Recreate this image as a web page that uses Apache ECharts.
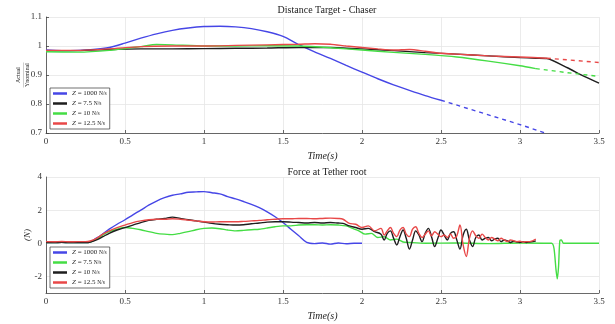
<!DOCTYPE html>
<html><head><meta charset="utf-8">
<script src="https://cdn.jsdelivr.net/npm/echarts@6/dist/echarts.min.js"></script>
<style>html,body{margin:0;padding:0;background:#fff}#c{width:615px;height:324px}</style>
</head><body><div id="c"></div>
<script>
// ---------- Top chart: Distance Target - Chaser ----------
const xTicks = [0, 0.5, 1, 1.5, 2, 2.5, 3, 3.5];
const topLabels = ['1000', '7.5', '10', '12.5'];
const botLabels = ['1000', '7.5', '10', '12.5'];

const tBlueTop = [0,0.1,0.2,0.3,0.4,0.5,0.6,0.7,0.8,0.9,1.0,1.1,1.2,1.3,1.4,1.5,1.6,1.7,1.8,1.9,2.0,2.1,2.2,2.3,2.4,2.5];
const yBlueTop = [0.986,0.984,0.985,0.988,0.995,1.010,1.027,1.042,1.054,1.062,1.067,1.068,1.066,1.060,1.049,1.033,1.005,0.980,0.957,0.933,0.910,0.887,0.866,0.847,0.829,0.813];
const tBlueTopDash = [2.5,2.75,3.0,3.16];
const yBlueTopDash = [0.813,0.771,0.729,0.700];

const tBlackTop = [0,0.2,0.4,0.6,0.8,1.0,1.2,1.4,1.6,1.8,2.0,2.2,2.4,2.6,2.8,3.0,3.1,3.17,3.3,3.4,3.5];
const yBlackTop = [0.984,0.984,0.988,0.990,0.990,0.991,0.992,0.993,0.995,0.995,0.990,0.984,0.977,0.972,0.966,0.960,0.958,0.957,0.925,0.897,0.872];

const tGreenTop = [0,0.2,0.4,0.6,0.7,0.8,1.0,1.2,1.4,1.6,1.8,2.0,2.2,2.4,2.6,2.8,3.0,3.1];
const yGreenTop = [0.980,0.979,0.985,0.998,1.005,1.004,1.000,1.000,1.001,1.000,0.994,0.986,0.978,0.971,0.962,0.948,0.932,0.922];
const tGreenTopDash = [3.1,3.3,3.5];
const yGreenTopDash = [0.922,0.908,0.895];

const tRedTop = [0,0.2,0.4,0.6,0.8,1.0,1.2,1.4,1.6,1.7,1.8,1.9,2.0,2.1,2.2,2.3,2.4,2.5,2.6,2.8,3.0,3.17];
const yRedTop = [0.985,0.985,0.990,0.998,1.000,1.000,1.002,1.004,1.006,1.008,1.006,1.000,0.995,0.990,0.986,0.988,0.982,0.975,0.972,0.966,0.962,0.958];
const tRedTopDash = [3.17,3.35,3.5];
const yRedTopDash = [0.958,0.950,0.943];

// ---------- Bottom chart: Force at Tether root ----------
const tBlueF = [0,0.05,0.1,0.15,0.2,0.25,0.28,0.3,0.35,0.4,0.45,0.5,0.55,0.6,0.65,0.7,0.75,0.8,0.85,0.9,0.95,1.0,1.05,1.1,1.15,1.2,1.25,1.3,1.35,1.4,1.45,1.5,1.55,1.6,1.65,1.7,1.75,1.8,1.85,1.9,1.95,2.0];
const fBlue  = [0.05,0.04,0.06,0.04,0.05,0.05,0.08,0.2,0.5,0.85,1.15,1.42,1.72,2.0,2.3,2.55,2.75,2.9,2.98,3.08,3.1,3.12,3.05,2.98,2.82,2.68,2.52,2.35,2.15,1.9,1.6,1.25,0.85,0.45,0.05,-0.02,0.02,-0.05,0.02,-0.03,0.0,0.0];

const tGreenF = [0,0.05,0.1,0.15,0.2,0.25,0.28,0.32,0.36,0.4,0.45,0.5,0.55,0.6,0.65,0.7,0.75,0.8,0.85,0.9,0.95,1.0,1.05,1.1,1.15,1.2,1.25,1.3,1.35,1.4,1.45,1.5,1.55,1.6,1.65,1.7,1.75,1.8,1.85,1.9,1.94,1.98,2.02,2.06,2.1,2.14,2.18,2.22,2.26,2.3,2.4,2.6,2.8,3.0,3.2,3.215,3.228,3.236,3.244,3.252,3.262,3.275,3.3,3.4,3.5];
const fGreen  = [0.05,0.04,0.06,0.04,0.05,0.05,0.08,0.25,0.5,0.7,0.85,0.95,0.9,0.82,0.7,0.6,0.55,0.52,0.6,0.7,0.82,0.9,0.92,0.88,0.8,0.75,0.78,0.82,0.85,0.92,1.0,1.05,1.05,1.1,1.12,1.12,1.1,1.12,1.1,1.05,0.9,0.75,0.55,0.6,0.35,0.4,0.2,0.25,0.08,0.05,0.0,0.02,-0.02,0.02,0.0,-0.3,-1.6,-2.15,-1.4,0.15,0.2,0.0,0.0,0.0,0.0];

const tBlackF = [0,0.05,0.1,0.15,0.2,0.25,0.28,0.32,0.36,0.4,0.45,0.5,0.55,0.6,0.65,0.7,0.75,0.8,0.85,0.9,0.95,1.0,1.05,1.1,1.15,1.2,1.25,1.3,1.35,1.4,1.45,1.5,1.55,1.6,1.65,1.7,1.75,1.8,1.85,1.88,1.92,1.96,2.0,2.04,2.08,
 2.12,2.14,2.16,2.18,2.20,2.22,2.24,2.26,2.28,2.30,2.32,2.34,2.36,2.38,2.40,2.42,2.44,2.46,2.48,2.50,2.52,2.54,2.56,2.58,2.60,2.62,2.64,2.66,2.68,2.70,2.72,2.74,2.76,2.78,2.80,2.82,2.84,2.86,2.88,2.90,2.92,2.94,2.96,2.98,3.00,3.02,3.04,3.06,3.08,3.10];
const fBlack  = [0.05,0.04,0.06,0.04,0.05,0.05,0.08,0.2,0.4,0.6,0.8,0.95,1.1,1.25,1.38,1.45,1.5,1.58,1.5,1.42,1.35,1.28,1.2,1.15,1.12,1.1,1.12,1.18,1.22,1.28,1.3,1.3,1.28,1.25,1.22,1.25,1.22,1.25,1.22,1.2,1.05,0.95,0.85,0.9,0.7,
 0.55,0.2,0.6,0.75,0.3,-0.1,0.4,0.8,0.3,-0.35,0.2,0.75,0.5,0.1,0.6,0.9,0.4,-0.2,0.3,0.8,0.5,0.2,0.6,0.7,0.2,-0.35,0.5,0.85,0.2,-0.2,0.35,0.5,0.2,0.3,0.35,0.15,0.25,0.3,0.1,0.2,0.15,0.05,0.12,0.08,0.05,0.1,0.05,0.08,0.1,0.15];

const tRedF = [0,0.05,0.1,0.15,0.2,0.25,0.28,0.32,0.36,0.4,0.45,0.5,0.55,0.6,0.65,0.7,0.75,0.8,0.85,0.9,0.95,1.0,1.05,1.1,1.15,1.2,1.25,1.3,1.35,1.4,1.45,1.5,1.55,1.6,1.65,1.7,1.75,1.8,1.85,1.88,1.92,1.96,2.0,2.04,2.08,
 2.12,2.14,2.16,2.18,2.20,2.22,2.24,2.26,2.28,2.30,2.32,2.34,2.36,2.38,2.40,2.42,2.44,2.46,2.48,2.50,2.52,2.54,2.56,2.58,2.60,2.62,2.64,2.66,2.68,2.70,2.72,2.74,2.76,2.78,2.80,2.82,2.84,2.86,2.88,2.90,2.92,2.94,2.96,2.98,3.00,3.02,3.04,3.06,3.08,3.10];
const fRed  = [0.1,0.09,0.11,0.09,0.1,0.1,0.14,0.3,0.55,0.75,0.95,1.1,1.25,1.35,1.42,1.45,1.45,1.48,1.45,1.4,1.35,1.3,1.28,1.3,1.3,1.3,1.32,1.35,1.38,1.42,1.45,1.48,1.48,1.5,1.5,1.48,1.5,1.52,1.5,1.45,1.2,1.15,0.95,1.05,0.75,
 0.9,0.5,0.75,0.95,0.6,0.4,0.8,0.95,0.55,0.4,0.85,1.0,0.6,0.35,0.55,0.75,0.45,0.7,0.55,0.4,0.5,0.35,0.55,0.3,0.45,1.1,-0.1,-0.8,0.3,0.75,0.45,0.3,0.55,0.35,0.2,0.35,0.25,0.15,0.3,0.2,0.1,0.2,0.15,0.1,0.12,0.08,0.1,0.1,0.15,0.25];

const C = {blue:'#4646e6', black:'#1e1e1e', green:'#44dd44', red:'#e84848'};
const zip = (t, v) => t.map((x, i) => [x, v[i]]);
const FONT = 'Liberation Serif';

const legendText = {
  d0:'1000', d1:'7.5', d2:'10', d3:'12.5',
  f0:'1000', f1:'7.5', f2:'10', f3:'12.5'
};
function legendFmt(name){ return '{i|Z} = ' + legendText[name] + ' {u|N/s}'; }

function line(name, data, color, xi, dashed, smooth){
  return {
    name: name, type:'line', data:data, xAxisIndex:xi, yAxisIndex:xi,
    symbol:'none', smooth: smooth || false, animation:false,
    lineStyle:{color:color, width:1.4, type: dashed ? [4,4] : 'solid'},
    itemStyle:{color:color}, z: 2
  };
}

const axisCommon = {
  axisLine:{show:true, onZero:false, lineStyle:{color:'#444', width:0.8}},
  axisTick:{show:true, inside:true, length:3, lineStyle:{color:'#444', width:0.8}},
  axisLabel:{color:'#333', fontFamily:FONT, fontSize:9, margin:4},
  splitLine:{show:true, lineStyle:{color:'#e6e6e6', width:0.8}}
};

function xAxis(gi){
  return Object.assign({}, JSON.parse(JSON.stringify(axisCommon)), {
    type:'value', gridIndex:gi, min:0, max:3.5, interval:0.5,
    name:'Time(s)', nameLocation:'middle', nameGap:18, nameMoveOverlap:false,
    nameTextStyle:{fontFamily:FONT, fontStyle:'italic', fontSize:10, color:'#222'}
  });
}

const legendCommon = {
  orient:'vertical', left:50, backgroundColor:'#fff',
  borderColor:'#333', borderWidth:0.7, borderRadius:0,
  padding:[2,3,2,3], itemGap:3, itemWidth:14, itemHeight:2.5, icon:'rect',
  formatter: legendFmt,
  textStyle:{fontFamily:FONT, fontSize:7, color:'#222',
    rich:{i:{fontFamily:FONT, fontStyle:'italic', fontSize:7}, u:{fontFamily:FONT, fontSize:5.5}}}
};

const option = {
  backgroundColor:'#fff',
  animation:false,
  title:[
    {text:'Distance Target - Chaser', left:322, top:0, textAlign:'center',
     textStyle:{fontFamily:FONT, fontWeight:'normal', fontSize:10, color:'#222'}},
    {text:'Force at Tether root', left:322, top:162, textAlign:'center',
     textStyle:{fontFamily:FONT, fontWeight:'normal', fontSize:10, color:'#222'}}
  ],
  grid:[
    {left:46, width:553, top:17, height:116},
    {left:46, width:553, top:177, height:116}
  ],
  xAxis:[xAxis(0), xAxis(1)],
  yAxis:[
    Object.assign({}, JSON.parse(JSON.stringify(axisCommon)), {
      type:'value', gridIndex:0, min:0.7, max:1.1, interval:0.1,
      axisLabel:{color:'#333', fontFamily:FONT, fontSize:9, margin:4,
        formatter:v => String(Math.round(v*10)/10)},
      name:'{n|Actual}\n{l|―――――}\n{d|Ynominal}', nameLocation:'middle', nameGap:16, nameRotate:90,
      nameMoveOverlap:false,
      nameTextStyle:{fontFamily:FONT, fontSize:6, color:'#222',
        rich:{n:{fontSize:6, lineHeight:6, fontFamily:FONT}, l:{fontSize:5, lineHeight:3, fontFamily:FONT}, d:{fontSize:6, lineHeight:6, fontFamily:FONT}}}
    }),
    Object.assign({}, JSON.parse(JSON.stringify(axisCommon)), {
      type:'value', gridIndex:1, min:-3, max:4, interval:1,
      axisTick:{show:false},
      axisLabel:{color:'#333', fontFamily:FONT, fontSize:9, margin:4,
        formatter:v => (Math.round(v) % 2 === 0 ? String(Math.round(v)) : '')},
      splitLine:{show:true, lineStyle:{color:['rgba(0,0,0,0)','#e6e6e6'], width:0.8}},
      name:'(N)', nameLocation:'middle', nameGap:14, nameRotate:90, nameMoveOverlap:false,
      nameTextStyle:{fontFamily:FONT, fontStyle:'italic', fontSize:9, color:'#222'}
    })
  ],
  legend:[
    Object.assign({}, legendCommon, {top:88, data:['d0','d1','d2','d3']}),
    Object.assign({}, legendCommon, {top:247, data:['f0','f1','f2','f3']})
  ],
  series:[
    line('d0', zip(tBlueTop, yBlueTop), C.blue, 0, false, 0.3),
    line('d0dash', zip(tBlueTopDash, yBlueTopDash), C.blue, 0, true),
    line('d1', zip(tBlackTop, yBlackTop), C.black, 0, false, 0.2),
    line('d2', zip(tGreenTop, yGreenTop), C.green, 0, false, 0.2),
    line('d2dash', zip(tGreenTopDash, yGreenTopDash), C.green, 0, true),
    line('d3', zip(tRedTop, yRedTop), C.red, 0, false, 0.2),
    line('d3dash', zip(tRedTopDash, yRedTopDash), C.red, 0, true),
    line('f0', zip(tBlueF, fBlue), C.blue, 1, false, 0.3),
    line('f1', zip(tGreenF, fGreen), C.green, 1, false, 0.25),
    line('f2', zip(tBlackF, fBlack), C.black, 1, false, 0.35),
    line('f3', zip(tRedF, fRed), C.red, 1, false, 0.35)
  ]
};

const chart = echarts.init(document.getElementById('c'), null, {renderer:'canvas'});
chart.setOption(option);
</script>
</body></html>
